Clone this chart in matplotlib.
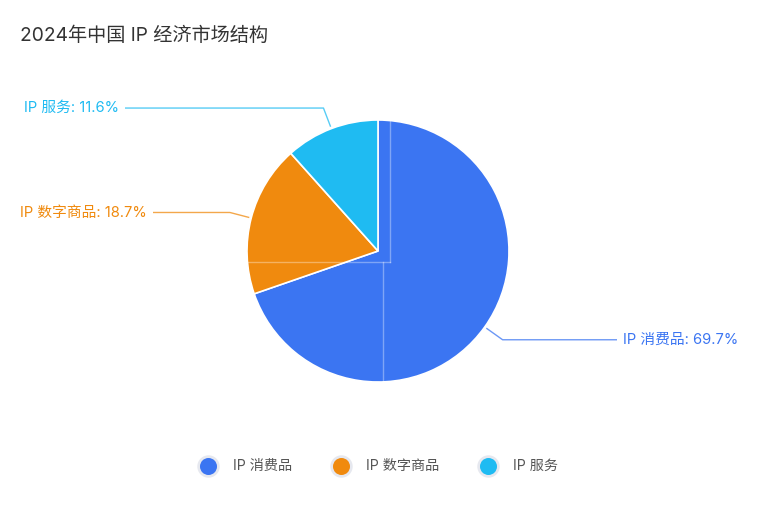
import matplotlib
matplotlib.use("Agg")
import matplotlib.pyplot as plt
import numpy as np

plt.rcParams['font.family'] = ['Inter', 'Noto Sans CJK SC', 'DejaVu Sans']

title = "2024年中国 IP 经济市场结构"
categories = ["IP 消费品", "IP 数字商品", "IP 服务"]
values = [69.7, 18.7, 11.6]
colors = ["#3B75F2", "#F08A0E", "#1FBBF2"]

W, H = 760, 513
fig = plt.figure(figsize=(W / 100, H / 100), dpi=100)
ax = fig.add_axes([0, 0, 1, 1])

def Y(y):
    return H - y

cx, cy, R = 378, Y(251), 131
wedges, _ = ax.pie(values, colors=colors, startangle=90, counterclock=False,
                   center=(cx, cy), radius=R,
                   wedgeprops=dict(edgecolor="white", linewidth=1.2))
ax.set_xlim(0, W)
ax.set_ylim(0, H)
ax.set_aspect('equal')
ax.axis('off')

# faint rendering seams seen in the reference
seam = dict(color="white", alpha=0.35, lw=1.0, zorder=5)
xs = cx + 11.5
yc = cy - 11
ax.plot([xs, xs], [cy + np.sqrt(R**2 - 11.5**2), yc], **seam)
ax.plot([cx - np.sqrt(R**2 - 11**2), xs], [yc, yc], **seam)
ax.plot([cx + 4.5, cx + 4.5], [yc, cy - np.sqrt(R**2 - 4.5**2)], **seam)

# label lines
label_end_x = {0: 617, 1: 153, 2: 125}
for i, w in enumerate(wedges):
    mid = np.deg2rad((w.theta1 + w.theta2) / 2)
    x0, y0 = cx + (R + 2) * np.cos(mid), cy + (R + 2) * np.sin(mid)
    x1, y1 = cx + (R + 22) * np.cos(mid), cy + (R + 22) * np.sin(mid)
    x2 = label_end_x[i]
    ax.plot([x0, x1, x2], [y0, y1, y1], color=colors[i], lw=1.0, alpha=0.75,
            solid_capstyle='butt')
    txt = f"{categories[i]}: {values[i]}%"
    if x2 > x1:
        ax.text(x2 + 6, y1, txt, color=colors[i], fontsize=10.6, ha='left', va='center')
    else:
        ax.text(x2 - 6, y1, txt, color=colors[i], fontsize=10.6, ha='right', va='center')

# title
fig.text(20 / W, 1 - 36 / H, title, fontsize=13.8, color="#333333", ha='left', va='center')

# legend
leg_x = [208, 341, 488]
leg_y = Y(466)
for i, c in enumerate(categories):
    ax.scatter([leg_x[i]], [leg_y], s=260, color="#e6e8ef", zorder=3, linewidths=0)
    ax.scatter([leg_x[i]], [leg_y], s=150, color=colors[i], zorder=4, linewidths=0)
    ax.text(leg_x[i] + 25, leg_y, c, fontsize=10.2, color="#555555", ha='left', va='center')

fig.savefig("out.png", dpi=100)
